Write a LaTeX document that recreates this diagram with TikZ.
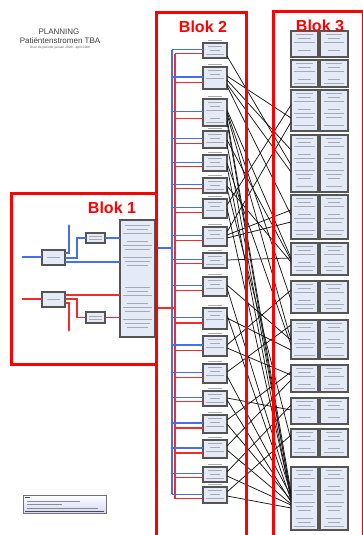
\documentclass[tikz,border=0pt]{standalone}
\usepackage{fontspec}
\setmainfont{Liberation Sans}
\usetikzlibrary{arrows.meta}
\definecolor{framered}{RGB}{255,0,0}
\definecolor{lnblue}{RGB}{70,110,240}
\definecolor{lnred}{RGB}{240,45,45}
\definecolor{boxfill}{RGB}{228,234,246}
\definecolor{boxdraw}{RGB}{85,85,85}
\definecolor{txtgray}{RGB}{165,170,182}
\tikzset{
 blokframe/.style={draw=framered, line width=3pt},
 bloklabel/.style={text=framered, font=\bfseries\fontsize{16}{16}\selectfont, inner sep=0pt},
 pbox/.style={draw=boxdraw, fill=boxfill, line width=1.1pt, inner sep=0pt, outer sep=0pt, rectangle},
 blueln/.style={draw=lnblue, line width=1.3pt},
 redln/.style={draw=lnred, line width=1.3pt},
 conn/.style={draw=black!90, line width=0.75pt},
 txtln/.style={draw=txtgray, line width=0.45pt},
 tiptip/.style={-{Stealth[length=3pt,width=2.5pt]}},
}
\newcommand\fakelines[4]{%
  \pgfmathsetmacro\fla{#3+3.5}%
  \pgfmathsetmacro\flb{#3+7.5}%
  \pgfmathsetmacro\fle{#4-2.8}%
  \foreach \yy [count=\kk] in {\fla,\flb,...,\fle}{%
    \pgfmathsetmacro\sh{mod(\kk,3)*2}%
    \pgfmathtruncatemacro\skipit{mod(\kk,4)==0 ? 1 : 0}%
    \ifnum\skipit=0 \draw[txtln] ({#1+\sh},\yy) -- ({#2-\sh},\yy);\fi}%
}
\begin{document}
\begin{tikzpicture}[x=1pt,y=-1pt]
\useasboundingbox (0,0) rectangle (363,535);
\fill[white] (0,0) rectangle (363,535);

% title
\node[font=\fontsize{8}{8}\selectfont, text=black!75] (t1) at (59,32) {PLANNING};
\node[font=\fontsize{8}{8}\selectfont, text=black!75] (t2) at (60,41) {Patiëntenstromen TBA};
\node[font=\fontsize{3.3}{3.3}\selectfont, text=black!60] (t3) at (60,48) {Over de periode januari 2008 - april 2008};

% Blok 2 boxes
\foreach \i/\yt/\yb in {1/43/58,2/67/89,3/99/126,4/131/148,5/155/171,6/178/193,7/199/218,8/227/246,9/253/268,10/277/296,11/308/329,12/336/356,13/364/383,14/391/406,15/415/433,16/440/458,17/467/482,18/487/503}{
  \node[pbox, minimum width=24pt, minimum height={(\yb-\yt)*1pt}] (b\i) at (215,{(\yt+\yb)/2}) {};
  \fakelines{206}{224}{\yt}{\yb}
  \draw[txtln] (208,{\yt-2.5}) -- (222,{\yt-2.5});
}

% Blok 3 boxes
\foreach \i/\yt/\yb in {1/31/57,2/60/87,3/90/131,4/135/192,5/195/239,6/243/275,7/281/313,8/320/359,9/365/392,10/398/424,11/429/457,12/467/530}{
  \node[pbox, minimum width=27pt, minimum height={(\yb-\yt)*1pt}] (c\i) at (304.5,{(\yt+\yb)/2}) {};
  \node[pbox, minimum width=28pt, minimum height={(\yb-\yt)*1pt}] (d\i) at (334,{(\yt+\yb)/2}) {};
  \fakelines{294}{315}{\yt}{\yb}
  \fakelines{324}{344}{\yt}{\yb}
}

% Blok 1 boxes
\node[pbox, minimum width=23pt, minimum height=15pt] (intake) at (53.5,257.5) {};
\node[pbox, minimum width=19pt, minimum height=10pt] (sb) at (95.5,238) {};
\node[pbox, minimum width=23pt, minimum height=15pt] (rbox) at (53.5,299.5) {};
\node[pbox, minimum width=19pt, minimum height=11pt] (srb) at (95.5,317.5) {};
\node[pbox, minimum width=35pt, minimum height=117pt] (big) at (137.5,278.5) {};
\draw[txtln] (47,257.5) -- (60,257.5);
\draw[txtln] (47,299.5) -- (60,299.5);
\draw[txtln] (89,236.5) -- (102,236.5);
\draw[txtln] (89,239.5) -- (102,239.5);
\draw[txtln] (89,316) -- (102,316);
\draw[txtln] (89,319) -- (102,319);
\fakelines{123}{152}{222}{276}
\fakelines{123}{152}{284}{336}

% Blok 1 lines
\coordinate (inb) at (22,257);
\coordinate (upb) at (69,224);
\coordinate (inr) at (22,299);
\coordinate (dnr) at (69,332);
\draw[blueln] (inb) -- (intake.west |- inb);
\draw[blueln,tiptip] (intake.east |- 0,253) -| (upb);
\draw[blueln] (intake.east |- 0,258) -- ++(12,0) |- (sb.west);
\draw[blueln] (sb.east) -- (big.west |- sb.east);
\draw[blueln] (intake.east |- 0,262) -- (big.west |- 0,262);
\draw[redln] (inr) -- (rbox.west |- inr);
\draw[redln] (rbox.east |- 0,295) -- (big.west |- 0,295);
\draw[redln,tiptip] (rbox.east |- 0,303) -| (dnr);
\draw[redln] (rbox.east |- 0,299) -- ++(12,0) |- (srb.west);
\draw[redln] (srb.east) -- (big.west |- srb.east);

% Blok 2 buses
\coordinate (busb) at (172,49.75);
\coordinate (busbe) at (172,494.2);
\coordinate (busr) at (175,53.8);
\coordinate (busre) at (175,498.5);
\draw[blueln] (busb) -- (busbe);
\draw[redln] (busr) -- (busre);
\foreach \i/\yt/\yb in {1/43/58,2/67/89,3/99/126,4/131/148,5/155/171,6/178/193,7/199/218,8/227/246,9/253/268,10/277/296,11/308/329,12/336/356,13/364/383,14/391/406,15/415/433,16/440/458,17/467/482,18/487/503}{
  \pgfmathsetmacro\by{\yt+0.45*(\yb-\yt)}
  \pgfmathsetmacro\ry{\yt+0.72*(\yb-\yt)}
  \draw[blueln] (busb |- 0,\by) -- (b\i.west |- 0,\by);
  \draw[redln] (busr |- 0,\ry) -- (b\i.west |- 0,\ry);
}
\draw[blueln] (big.east |- 0,248) -- (busb |- 0,248);
\draw[redln] (big.east |- 0,308) -- (busr |- 0,308);

% connectors Blok 2 -> Blok 3
\foreach \s/\ys/\d/\yd in {1/56/4/165,2/76/3/118,2/80/4/150,2/84/4/172,2/86/5/215,3/110/6/258,3/114/8/340,3/118/12/492,3/122/12/498,3/112/7/300,4/140/6/260,4/144/12/495,5/163/8/345,5/166/12/500,6/186/6/262,6/188/11/440,7/205/3/105,7/208/12/497,8/232/3/122,8/235/5/210,8/238/5/222,9/260/6/258,10/285/8/340,10/288/12/494,11/315/12/500,11/318/8/350,12/345/7/290,12/348/9/375,13/372/8/325,13/376/12/496,14/398/10/410,14/400/12/502,15/420/9/372,15/424/12/500,16/446/9/380,16/450/12/504,17/472/10/405,17/476/12/505,18/492/11/435,18/496/12/508}{
  \draw[conn] (b\s.east |- 0,\ys) -- (c\d.west |- 0,\yd);
}

% frames
\draw[blokframe] (11,193) rectangle (156,364);
\draw[blokframe] (156,13) rectangle (246,560);
\draw[blokframe] (273,12) rectangle (363.5,560);
\node[bloklabel] (l1) at (112,207.5) {Blok 1};
\node[bloklabel] (l2) at (203,27) {Blok 2};
\node[bloklabel] (l3) at (320,26) {Blok 3};

% legend
\node[pbox, draw=black!55, line width=0.8pt, minimum width=83pt, minimum height=18pt, top color=white, bottom color=boxfill!80!blue!60] (leg) at (64.5,504) {};
\draw[draw=black!70, line width=0.8pt] (25,497) -- (30,497);
\draw[txtln, draw=black!45] (27,501) -- (80,501);
\draw[txtln, draw=black!45] (27,504.5) -- (62,504.5);
\draw[txtln, draw=black!45] (27,508) -- (98,508);
\draw[draw=black!70, line width=0.8pt] (25,511) -- (104,511);
\end{tikzpicture}
\end{document}
